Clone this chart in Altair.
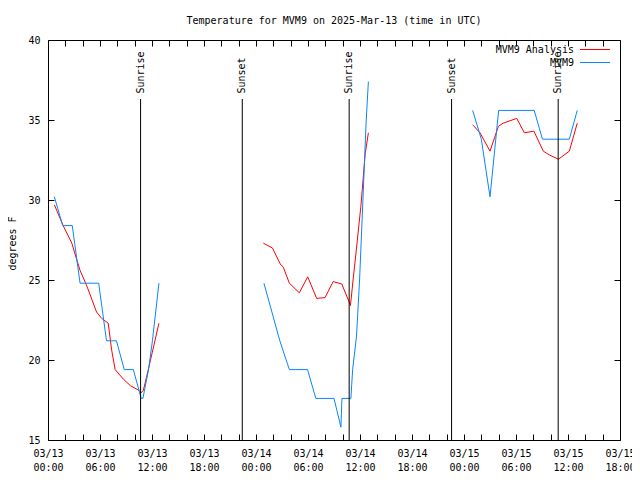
import altair as alt
import pandas as pd

# ---------------- data ----------------
series_names = ["MVM9 Analysis", "MVM9"]
series_colors = ["#ff0000", "#0a84ff"]

# MVM9 Analysis (red), three daily segments
ana1_date = "2025-03-13"
ana1_times = ["00:44", "01:45", "02:45", "03:18", "03:42", "04:30", "05:36", "06:12",
              "06:57", "07:21", "07:45", "08:42", "09:30", "10:30", "10:45", "11:00",
              "11:24", "12:00", "12:48"]
ana1_temps = [29.7, 28.4, 27.3, 26.3, 25.6, 24.6, 23.0, 22.6,
              22.3, 20.6, 19.4, 18.8, 18.4, 18.1, 17.95, 18.1,
              19.0, 20.4, 22.3]

ana2_date = "2025-03-14"
ana2_times = ["00:51", "01:54", "02:48", "03:09", "03:51", "05:00", "05:58", "07:00",
              "07:58", "08:54", "09:54", "10:46", "10:54", "11:12", "11:30", "12:06",
              "12:36", "12:58"]
ana2_temps = [27.3, 27.0, 26.0, 25.8, 24.8, 24.2, 25.2, 23.85,
              23.9, 24.9, 24.75, 23.6, 23.4, 25.0, 26.5, 29.6,
              32.9, 34.2]

ana3_date = "2025-03-15"
ana3_times = ["01:00", "01:51", "03:00", "03:58", "04:30", "06:05", "06:58", "08:04",
              "09:09", "09:54", "10:54", "12:09", "13:04"]
ana3_temps = [34.7, 34.2, 33.05, 34.6, 34.8, 35.1, 34.2, 34.3,
              33.05, 32.8, 32.55, 33.05, 34.8]

# MVM9 observations (blue)
obs1_date = "2025-03-13"
obs1_times = ["00:44", "01:42", "02:48", "03:42", "05:51", "06:45", "07:54", "08:48",
              "09:51", "10:45", "10:57", "11:36", "12:03", "12:48"]
obs1_temps = [30.2, 28.4, 28.4, 24.8, 24.8, 21.2, 21.2, 19.4,
              19.4, 17.6, 17.6, 19.4, 21.2, 24.8]

obs2_date = "2025-03-14"
obs2_times = ["00:55", "02:45", "03:51", "05:57", "06:54", "09:00", "09:48", "09:55",
              "10:57", "11:09", "11:36", "11:57", "12:18", "12:42", "12:58"]
obs2_temps = [24.8, 21.2, 19.4, 19.4, 17.6, 17.6, 15.8, 17.6,
              17.6, 19.4, 21.5, 25.0, 29.5, 34.8, 37.4]

obs3_date = "2025-03-15"
obs3_times = ["01:00", "02:00", "03:00", "04:00", "08:06", "09:03", "12:09", "13:04"]
obs3_temps = [35.6, 33.8, 30.2, 35.6, 35.6, 33.8, 33.8, 35.6]

sun_events = ["Sunrise", "Sunset", "Sunrise", "Sunset", "Sunrise"]
sun_times = ["2025-03-13T10:41:00Z", "2025-03-13T22:25:00Z", "2025-03-14T10:45:00Z",
             "2025-03-14T22:34:00Z", "2025-03-15T10:52:00Z"]

y_ticks = [15, 20, 25, 30, 35, 40]
title_text = "Temperature for MVM9 on 2025-Mar-13 (time in UTC)"
y_title = "degrees F"

# ---------------- tables ----------------
def seg(series, segid, date, times, temps):
    return pd.DataFrame({
        "series": series,
        "segment": segid,
        "t": [f"{date}T{hm}:00Z" for hm in times],
        "temp": temps,
    })

ana_df = pd.concat([
    seg(series_names[0], "a1", ana1_date, ana1_times, ana1_temps),
    seg(series_names[0], "a2", ana2_date, ana2_times, ana2_temps),
    seg(series_names[0], "a3", ana3_date, ana3_times, ana3_temps),
], ignore_index=True)
obs_df = pd.concat([
    seg(series_names[1], "o1", obs1_date, obs1_times, obs1_temps),
    seg(series_names[1], "o2", obs2_date, obs2_times, obs2_temps),
    seg(series_names[1], "o3", obs3_date, obs3_times, obs3_temps),
], ignore_index=True)
sun_df = pd.DataFrame({"event": sun_events, "t": sun_times})
legend_df = pd.DataFrame({"series": series_names})

# ---------------- styling ----------------
W, H = 572, 400
FONT = "DejaVu Sans Mono"
FS = 10

def dt(h):
    return alt.DateTime(year=2025, month=3, date=13 + h // 24, hours=h % 24, utc=True)

x_scale = alt.Scale(type="utc", domain=[dt(0), dt(66)])
y_scale = alt.Scale(domain=[15, 40], nice=False, zero=False)
color_scale = alt.Scale(domain=series_names, range=series_colors)
x_tick_vals = [dt(h) for h in range(0, 67, 2)]

label_expr = ("utchours(datum.value) % 6 == 0 ? "
              "[utcFormat(datum.value, '%m/%d'), utcFormat(datum.value, '%H:%M')] : ''")

x_axis_bottom = alt.Axis(orient="bottom", values=x_tick_vals, labelExpr=label_expr,
                         title=None, domain=False, grid=False, tickSize=6, offset=-6,
                         labelPadding=8.5, labelOverlap=False, labelFlush=False,
                         labelLineHeight=14)
x_axis_top = alt.Axis(orient="top", values=x_tick_vals, labels=False, title=None,
                      domain=False, grid=False, tickSize=6, offset=-6)
y_axis_left = alt.Axis(orient="left", values=y_ticks, title=y_title, domain=False,
                       grid=False, tickSize=6, offset=-6, labelPadding=8,
                       labelFlush=False, labelOverlap=False,
                       titleAngle=270, titleX=-42, titleY=203, titleAlign="center",
                       titleBaseline="middle")
y_axis_right = alt.Axis(orient="right", values=y_ticks, labels=False, title=None,
                        domain=False, grid=False, tickSize=6, offset=-6)

obs_lines = alt.Chart(obs_df).mark_line(strokeWidth=1).encode(
    x=alt.X("t:T", scale=x_scale, axis=x_axis_bottom),
    y=alt.Y("temp:Q", scale=y_scale, axis=y_axis_left),
    color=alt.Color("series:N", scale=color_scale, legend=None),
    detail="segment:N",
)
ana_lines = alt.Chart(ana_df).mark_line(strokeWidth=1).encode(
    x=alt.X("t:T", scale=x_scale, axis=x_axis_top),
    y=alt.Y("temp:Q", scale=y_scale, axis=y_axis_right),
    color=alt.Color("series:N", scale=color_scale, legend=None),
    detail="segment:N",
)
sun_rules = alt.Chart(sun_df).mark_rule(color="black", strokeWidth=1).encode(
    x=alt.X("t:T", scale=x_scale, axis=None),
    y=alt.value(H),
    y2=alt.value(59),
)
sun_text = alt.Chart(sun_df).mark_text(angle=270, align="left", baseline="middle",
                                       font=FONT, fontSize=FS, color="black").encode(
    x=alt.X("t:T", scale=x_scale, axis=None),
    y=alt.value(53.5),
    text="event:N",
)

inner = alt.layer(ana_lines, obs_lines, sun_rules, sun_text).resolve_axis(
    x="independent", y="independent")

leg_y = alt.Scale(type="point", domain=series_names, range=[9.5, 22.5], padding=0)
legend_rules = alt.Chart(legend_df).mark_rule(strokeWidth=1).encode(
    x=alt.value(532), x2=alt.value(562),
    y=alt.Y("series:N", scale=leg_y, axis=None),
    color=alt.Color("series:N", scale=color_scale, legend=None),
)
legend_text = alt.Chart(legend_df).mark_text(align="right", baseline="middle",
                                             font=FONT, fontSize=FS, color="black").encode(
    x=alt.value(526),
    y=alt.Y("series:N", scale=leg_y, axis=None),
    text="series:N",
)

chart = alt.layer(inner, legend_rules, legend_text).resolve_scale(
    y="independent"
).properties(
    width=W, height=H,
    autosize=alt.AutoSizeParams(type="none"),
    padding={"left": 40, "top": 32, "right": 12, "bottom": 32},
    background="white",
    title=alt.TitleParams(title_text, font=FONT, fontSize=FS, fontWeight="normal",
                          anchor="middle", baseline="middle", offset=4, color="black"),
).configure_view(
    stroke="black", strokeWidth=1
).configure_axis(
    labelFont=FONT, labelFontSize=FS, labelColor="black",
    titleFont=FONT, titleFontSize=FS, titleFontWeight="normal", titleColor="black",
    tickColor="black", tickWidth=1,
)

chart.save("out.html", embed_options={"renderer": "svg", "actions": False})
